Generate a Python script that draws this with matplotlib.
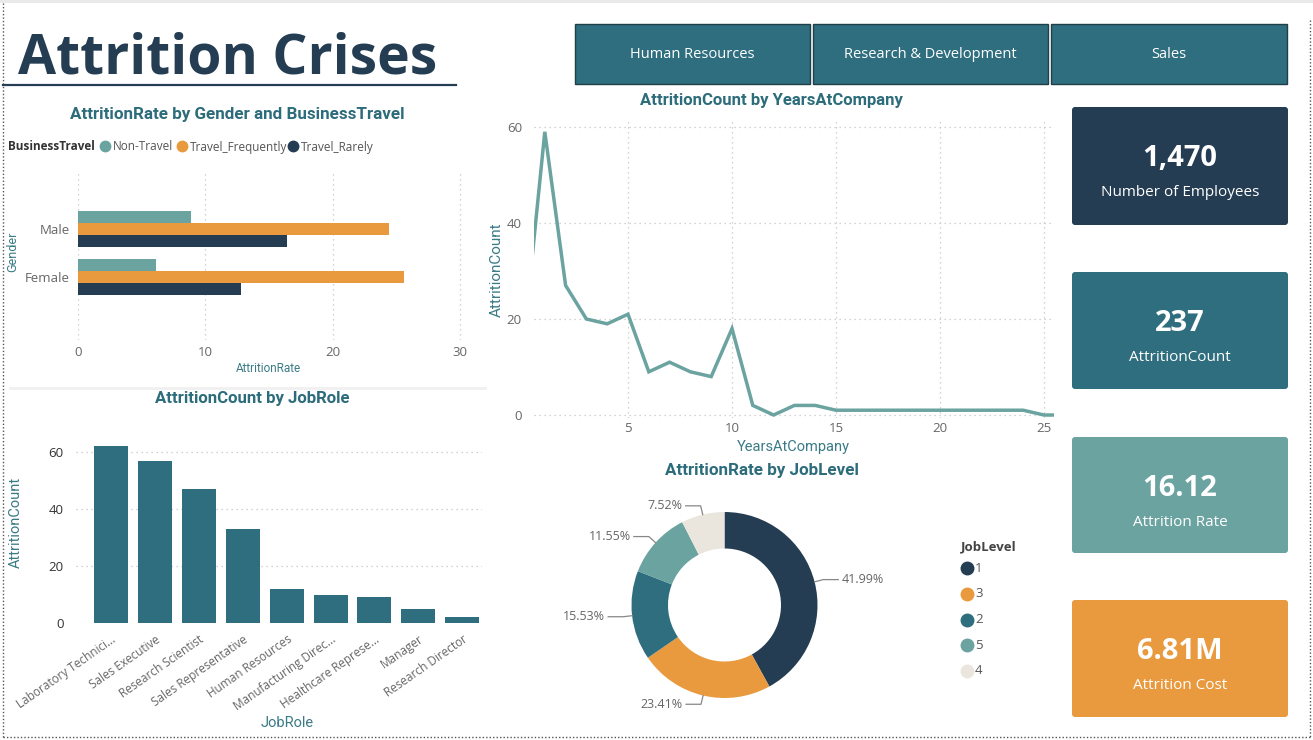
import matplotlib
matplotlib.use('Agg')
import matplotlib.pyplot as plt
import numpy as np
from matplotlib.patches import FancyBboxPatch, Rectangle

plt.rcParams['font.family'] = ['Open Sans', 'DejaVu Sans']

W, H = 1313, 740
DPI = 100

# ---------------- data ----------------
genders = ['Male', 'Female']
travel_types = ['Non-Travel', 'Travel_Frequently', 'Travel_Rarely']
rate_non_travel = [8.9, 6.1]
rate_travel_freq = [24.4, 25.6]
rate_travel_rare = [16.4, 12.8]

years = list(range(0, 27))
attrition_by_year = [16, 59, 27, 20, 19, 21, 9, 11, 9, 8, 18, 2, 0, 2, 2,
                     1, 1, 1, 1, 1, 1, 1, 1, 1, 1, 0, 0]

job_roles = ['Laboratory Technici...', 'Sales Executive', 'Research Scientist',
             'Sales Representative', 'Human Resources', 'Manufacturing Direc...',
             'Healthcare Represe...', 'Manager', 'Research Director']
attrition_by_role = [62, 57, 47, 33, 12, 10, 9, 5, 2]

job_levels = ['1', '3', '2', '5', '4']
job_level_share = [41.99, 23.41, 15.53, 11.55, 7.52]

departments = ['Human Resources', 'Research & Development', 'Sales']
kpi_values = ['1,470', '237', '16.12', '6.81M']
kpi_labels = ['Number of Employees', 'AttritionCount', 'Attrition Rate', 'Attrition Cost']

# ---------------- style ----------------
navy = '#253D52'
teal = '#2F6E7E'
lteal = '#6BA3A0'
orange = '#E99A3E'
beige = '#EAE6DE'
title_col = '#2C6C7B'
axlab_col = '#3A7B86'
tick_col = '#666666'
din = ['Roboto', 'DejaVu Sans']

fig = plt.figure(figsize=(W / DPI, H / DPI), dpi=DPI)
fig.patch.set_facecolor('white')


def rect(x0, y0, x1, y1):
    return [x0 / W, 1 - y1 / H, (x1 - x0) / W, (y1 - y0) / H]


bg = fig.add_axes([0, 0, 1, 1])
bg.set_xlim(0, W)
bg.set_ylim(H, 0)
bg.axis('off')
bg.set_zorder(0)
renderer = fig.canvas.get_renderer()


def fit_text(x, y, s, width, ha='center', va='center', **kw):
    t = bg.text(x, y, s, ha=ha, va=va, fontsize=10, **kw)
    bb = t.get_window_extent(renderer)
    t.set_fontsize(10 * width / bb.width)
    return t


# borders / decorations
bg.add_patch(Rectangle((0, 0), W, 3, color='#e9e9e9', lw=0))
bg.plot([3, 3], [3, 737], ls=(0, (1, 1.5)), color='#555555', lw=1)
bg.plot([3, 1310], [737, 737], ls=(0, (1, 1.5)), color='#555555', lw=1)
bg.plot([1310, 1310], [20, 737], ls=(0, (1, 1.5)), color='#555555', lw=1)
bg.plot([10, 485], [388, 388], color='#f0f0f0', lw=2)

# main title
fit_text(18, 73, 'Attrition Crises', 420, ha='left', va='baseline',
         color=navy, fontweight='bold')
bg.plot([3, 456], [85, 85], color=navy, lw=1.6)

# department buttons
btn_x = [(575, 810), (813, 1048), (1051, 1287)]
for (x0, x1), name in zip(btn_x, departments):
    bg.add_patch(Rectangle((x0, 24), x1 - x0, 60, facecolor=teal,
                           edgecolor='#1f3f49', lw=1))
    bg.text((x0 + x1) / 2, 55, name, ha='center', va='center',
            color='white', fontsize=10.5)

# KPI cards
card_y = [(107, 225), (272, 389), (437, 553), (600, 717)]
card_cols = [navy, teal, lteal, orange]
for (y0, y1), c, v, lab in zip(card_y, card_cols, kpi_values, kpi_labels):
    bg.add_patch(FancyBboxPatch((1072, y0), 216, y1 - y0,
                                boxstyle='round,pad=0,rounding_size=3',
                                facecolor=c, edgecolor='none'))
    bg.text(1180, y0 + 59, v, ha='center', va='baseline', color='white',
            fontsize=21, fontweight='bold')
    bg.text(1180, y0 + 89, lab, ha='center', va='baseline', color='white',
            fontsize=11)

# ---------------- chart 1: AttritionRate by Gender and BusinessTravel ----------------
fit_text(237, 115, 'AttritionRate by Gender and BusinessTravel', 334,
         color=title_col, fontweight='bold', family=din)
bg.text(8, 147, 'BusinessTravel', ha='left', va='center', fontsize=8.5,
        fontweight='bold', color='#333333')
leg_x = [(105, 112), (182, 189), (293, 300)]
leg_cols = [lteal, orange, navy]
for (mx, tx), c, name in zip(leg_x, leg_cols, travel_types):
    bg.plot(mx, 146, 'o', color=c, ms=7.5)
    bg.text(tx + 1, 147, name, ha='left', va='center', fontsize=8.5, color='#555555')

ax1 = fig.add_axes(rect(78, 172, 470, 340))
ax1.set_zorder(1)
ax1.patch.set_alpha(0)
ypos = np.arange(len(genders))
bh = 0.25
for k, (vals, c) in enumerate(zip([rate_non_travel, rate_travel_freq, rate_travel_rare], leg_cols)):
    ax1.barh(ypos + (k - 1) * bh, vals, height=bh, color=c, zorder=2)
ax1.set_xlim(0, 392 / 12.73)
ax1.set_ylim(2.3125, -1.1875)
ax1.set_xticks([0, 10, 20, 30])
ax1.set_yticks(ypos)
ax1.set_yticklabels(genders)
ax1.grid(axis='x', ls=(0, (1, 3)), color='#c4c4c4', lw=0.9)
ax1.set_axisbelow(True)
for s in ax1.spines.values():
    s.set_visible(False)
ax1.tick_params(axis='x', length=0, pad=4, labelsize=9.5, labelcolor=tick_col)
ax1.tick_params(axis='y', length=0, pad=6, labelsize=9.5, labelcolor=tick_col)
bg.text(268, 369, 'AttritionRate', ha='center', va='center', fontsize=8.5,
        color=axlab_col, family=din)
bg.text(13, 252, 'Gender', ha='center', va='center', fontsize=9, rotation=90,
        color=axlab_col, family=din)

# ---------------- chart 2: AttritionCount by YearsAtCompany ----------------
fit_text(771, 101, 'AttritionCount by YearsAtCompany', 264,
         color=title_col, fontweight='bold', family=din)
ax2 = fig.add_axes(rect(534.4, 119.8, 1054.4, 417.9))
ax2.set_zorder(1)
ax2.patch.set_alpha(0)
ax2.plot(years, attrition_by_year, color=lteal, lw=2.5, solid_joinstyle='miter')
ax2.set_xlim(0.5, 25.5)
ax2.set_ylim(-0.6, 61.5)
ax2.set_xticks([5, 10, 15, 20, 25])
ax2.set_yticks([0, 20, 40, 60])
ax2.grid(True, ls=(0, (1, 3)), color='#c4c4c4', lw=0.9)
ax2.set_axisbelow(True)
for s in ax2.spines.values():
    s.set_visible(False)
ax2.tick_params(axis='x', length=0, pad=3, labelsize=9.5, labelcolor=tick_col)
ax2.tick_params(axis='y', length=0, pad=9, labelsize=9.5, labelcolor=tick_col)
bg.text(793, 447, 'YearsAtCompany', ha='center', va='center', fontsize=10.5,
        color=axlab_col, family=din)
bg.text(497, 270, 'AttritionCount', ha='center', va='center', fontsize=11,
        rotation=90, color=axlab_col, family=din)

# ---------------- chart 3: AttritionCount by JobRole ----------------
fit_text(252.5, 399, 'AttritionCount by JobRole', 195,
         color=title_col, fontweight='bold', family=din)
ax3 = fig.add_axes(rect(76, 443.6, 482, 623))
ax3.set_zorder(1)
ax3.patch.set_alpha(0)
xr = np.arange(len(job_roles))
ax3.bar(xr, attrition_by_role, width=0.775, color=teal, zorder=2)
ax3.set_xlim(-0.8, 8.45)
ax3.set_ylim(0, 63)
ax3.set_yticks([0, 20, 40, 60])
ax3.set_xticks(xr)
ax3.set_xticklabels(job_roles, rotation=35, ha='right', rotation_mode='anchor')
ax3.grid(axis='y', ls=(0, (1, 3)), color='#c4c4c4', lw=0.9)
ax3.set_axisbelow(True)
for s in ax3.spines.values():
    s.set_visible(False)
ax3.tick_params(axis='x', length=0, pad=7, labelsize=8.5, labelcolor=tick_col)
ax3.tick_params(axis='y', length=0, pad=9, labelsize=9.5, labelcolor='#333333')
bg.text(287, 723, 'JobRole', ha='center', va='center', fontsize=10.5,
        color=axlab_col, family=din)
bg.text(16, 522, 'AttritionCount', ha='center', va='center', fontsize=10.5,
        rotation=90, color=axlab_col, family=din)

# ---------------- chart 4: AttritionRate by JobLevel (donut) ----------------
fit_text(762, 471, 'AttritionRate by JobLevel', 194,
         color=title_col, fontweight='bold', family=din)
ax4 = fig.add_axes(rect(624.5, 505, 824.5, 705))
ax4.set_zorder(1)
ax4.axis('off')
pie_cols = [navy, orange, teal, lteal, beige]
R = 93
wedges, _ = ax4.pie(job_level_share, colors=pie_cols, startangle=90,
                    counterclock=False, radius=R,
                    wedgeprops=dict(width=36.5, edgecolor='none'))
ax4.set_xlim(-100, 100)
ax4.set_ylim(-100, 100)
ax4.set_aspect('equal')
for w, val in zip(wedges, job_level_share):
    ang = np.deg2rad((w.theta1 + w.theta2) / 2)
    ca, sa = np.cos(ang), np.sin(ang)
    p0 = (R * ca, R * sa)
    p1 = ((R + 9) * ca, (R + 9) * sa)
    sgn = 1 if ca > 0 else -1
    p2 = (p1[0] + sgn * 15, p1[1])
    ax4.plot([p0[0], p1[0], p2[0]], [p0[1], p1[1], p2[1]], color='#888888',
             lw=0.9, clip_on=False)
    ax4.text(p2[0] + sgn * 3, p2[1], f'{val:.2f}%', ha='left' if sgn > 0 else 'right',
             va='center', fontsize=9, color=tick_col, clip_on=False)

bg.text(961, 547, 'JobLevel', ha='left', va='center', fontsize=9.5,
        fontweight='bold', color='#444444')
for i, (lvl, c) in enumerate(zip(job_levels, pie_cols)):
    yy = 568 + i * 25.75
    bg.plot(967, yy, 'o', color=c, ms=9)
    bg.text(975, yy, lvl, ha='left', va='center', fontsize=9.5, color='#555555')

fig.savefig('out.png', dpi=DPI, facecolor='white')
